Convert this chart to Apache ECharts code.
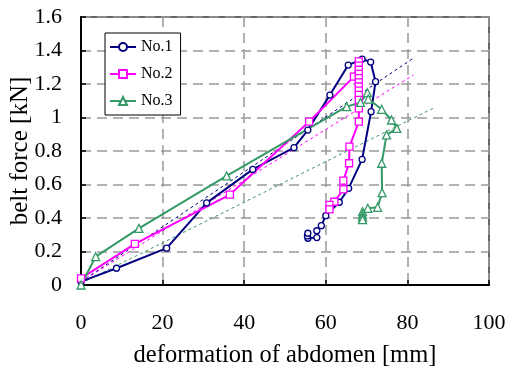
<!DOCTYPE html>
<html>
<head>
<meta charset="utf-8">
<script src="https://cdn.jsdelivr.net/npm/echarts@6/dist/echarts.min.js"></script>
<style>html,body{margin:0;padding:0;background:#fff;}#c{width:510px;height:372px;}</style>
</head>
<body>
<div id="c"></div>
<script>
var xTicks = [0, 20, 40, 60, 80, 100];
var yTicks = [0, 0.2, 0.4, 0.6, 0.8, 1, 1.2, 1.4, 1.6];

var no1X = [0, 8.7, 21.0, 30.8, 42.1, 52.2, 55.6, 61.0, 65.5, 68.9, 71.0, 72.2, 71.1, 68.9, 65.6, 63.3, 60.0, 58.9, 57.8, 57.8, 55.6, 55.5, 55.6];
var no1Y = [0.02, 0.10, 0.22, 0.49, 0.69, 0.82, 0.925, 1.134, 1.313, 1.349, 1.331, 1.214, 1.035, 0.75, 0.577, 0.494, 0.414, 0.354, 0.324, 0.283, 0.279, 0.293, 0.309];

var no2X = [0, 13.2, 36.5, 55.9, 66.9, 68.1, 68.1, 68.1, 68.1, 68.1, 68.1, 68.1, 68.1, 68.1, 68.1, 68.1, 68.1, 65.8, 65.7, 64.3, 64.3, 62.1, 60.9, 60.9];
var no2Y = [0.04, 0.245, 0.54, 0.975, 1.244, 1.335, 1.31, 1.285, 1.26, 1.235, 1.21, 1.185, 1.16, 1.135, 1.105, 1.055, 0.975, 0.826, 0.727, 0.623, 0.571, 0.497, 0.478, 0.452];

var no3X = [0, 3.6, 14.2, 35.7, 65.1, 68.5, 70.2, 70.4, 73.7, 76.1, 77.4, 74.9, 73.7, 73.8, 72.7, 70.3, 69.0, 69.0, 69.0, 69.0];
var no3Y = [0.0, 0.169, 0.338, 0.651, 1.065, 1.09, 1.148, 1.11, 1.049, 0.985, 0.935, 0.896, 0.727, 0.551, 0.464, 0.458, 0.438, 0.42, 0.405, 0.39];

var trend1X = [0, 81.2], trend1Y = [0.02, 1.35];
var trend2X = [0, 81.5], trend2Y = [0.02, 1.254];
var trend3X = [0, 86.8], trend3Y = [0.01, 1.061];

var names = ['No.1', 'No.2', 'No.3'];
var colors = ['#000080', '#ff00ff', '#339966'];

function zip(a, b) { return a.map(function (v, i) { return [v, b[i]]; }); }

var FONT = 'Liberation Serif';
var chart = echarts.init(document.getElementById('c'));

function mainSeries(name, xs, ys, color, symbol, size) {
  return {
    name: name, type: 'line', data: zip(xs, ys),
    symbol: symbol, symbolSize: size, showSymbol: true,
    lineStyle: { color: color, width: 2 },
    itemStyle: { color: '#fff', borderColor: color, borderWidth: 1.3 },
    z: 3
  };
}
function trendSeries(name, xs, ys, color) {
  return {
    name: name, type: 'line', data: zip(xs, ys), symbol: 'none',
    lineStyle: { color: color, width: 1, type: [3, 3] }, z: 2, silent: true
  };
}

chart.setOption({
  animation: false,
  backgroundColor: '#fff',
  grid: { left: 81, right: 21, top: 17, bottom: 87, containLabel: false, outerBoundsMode: 'none', show: true, borderColor: '#333', borderWidth: 1.5, backgroundColor: 'transparent' },
  legend: {
    data: names, orient: 'vertical', left: 105, top: 33,
    backgroundColor: '#fff',
    borderColor: '#000', borderWidth: 1, padding: [6, 8, 6, 4],
    itemWidth: 26, itemHeight: 10, itemGap: 11,
    textStyle: { fontFamily: FONT, fontSize: 16, color: '#000' }
  },
  xAxis: {
    type: 'value', min: xTicks[0], max: xTicks[xTicks.length - 1], interval: 20,
    name: 'deformation of abdomen [mm]', nameLocation: 'middle', nameGap: 58, nameMoveOverlap: false,
    nameTextStyle: { fontFamily: FONT, fontSize: 24.5, color: '#000' },
    axisLine: { show: true, onZero: false, lineStyle: { color: '#000', width: 2 } },
    axisTick: { show: true, inside: true, length: 5, lineStyle: { color: '#000', width: 1.5 } },
    axisLabel: { fontFamily: FONT, fontSize: 22, color: '#000', margin: 27 },
    splitLine: { show: true, lineStyle: { color: '#999', width: 1.5, type: [10, 6] } }
  },
  yAxis: {
    type: 'value', min: yTicks[0], max: yTicks[yTicks.length - 1], interval: 0.2,
    name: 'belt force [kN]', nameLocation: 'middle', nameGap: 48, nameMoveOverlap: false,
    nameTextStyle: { fontFamily: FONT, fontSize: 25, color: '#000' },
    axisLine: { show: true, onZero: false, lineStyle: { color: '#000', width: 2 } },
    axisTick: { show: true, inside: true, length: 5, lineStyle: { color: '#000', width: 1.5 } },
    axisLabel: { fontFamily: FONT, fontSize: 22, color: '#000', margin: 19 },
    splitLine: { show: true, lineStyle: { color: '#999', width: 1.5, type: [10, 6] } }
  },
  series: [
    trendSeries('t1', trend1X, trend1Y, colors[0]),
    trendSeries('t2', trend2X, trend2Y, colors[1]),
    trendSeries('t3', trend3X, trend3Y, colors[2]),
    mainSeries(names[0], no1X, no1Y, colors[0], 'circle', 6),
    mainSeries(names[1], no2X, no2Y, colors[1], 'rect', 7),
    mainSeries(names[2], no3X, no3Y, colors[2], 'triangle', 8)
  ]
});
</script>
</body>
</html>
